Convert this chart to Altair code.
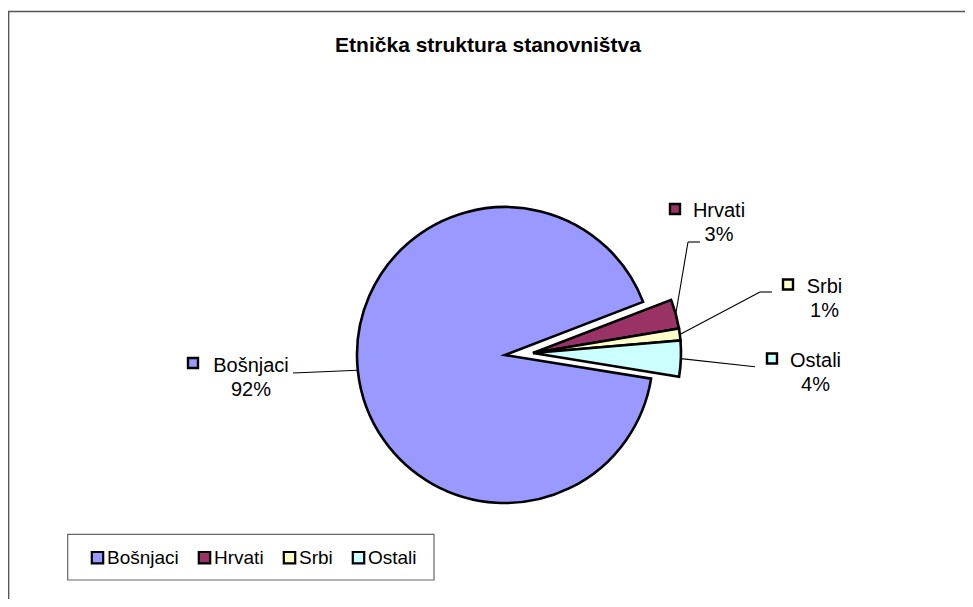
import math
import altair as alt
import pandas as pd

# ---------------- data ----------------
categories = ["Bošnjaci", "Hrvati", "Srbi", "Ostali"]
shares = [91.6, 3.2, 1.3, 3.9]
colors = ["#9999FF", "#993366", "#FFFFCC", "#CCFFFF"]
TITLE = "Etnička struktura stanovništva"

# ---------------- layout (page pixels) ----------------
OX, OY = 12, 12            # page position of the view origin (8px margin + 4px padding)
W, H = 953, 587
START_DEG = 99.2           # angle where the first slice starts (clockwise from 12 o'clock)
R = 148
CENTER_MAIN = (505, 355)
CENTER_EXPL = (533, 353)
label_layout = {
    "Bošnjaci": dict(name_cx=251, base=372, mk_x=193, mk_y=363, ex=293, ey=373, hx=293),
    "Hrvati": dict(name_cx=719, base=216.7, mk_x=675, mk_y=209, ex=688, ey=242, hx=700),
    "Srbi": dict(name_cx=824.5, base=292.7, mk_x=788, mk_y=284.5, ex=760, ey=292, hx=772),
    "Ostali": dict(name_cx=815.5, base=367, mk_x=772, mk_y=358.5, ex=755, ey=366.7, hx=755),
}

rows = []
for i, (c, v) in enumerate(zip(categories, shares)):
    L = label_layout[c]
    rows.append(dict(
        category=c, share=v, idx=i,
        name_cx=L["name_cx"] - OX, base=L["base"] - OY,
        mk_x=L["mk_x"] - OX, mk_y=L["mk_y"] - OY,
        ex=L["ex"] - OX, ey=L["ey"] - OY, hx=L["hx"] - OX,
    ))
df = pd.DataFrame(rows)

total = sum(shares)
a0 = math.radians(START_DEG)
c1x, c1y = CENTER_MAIN[0] - OX, CENTER_MAIN[1] - OY
c2x, c2y = CENTER_EXPL[0] - OX, CENTER_EXPL[1] - OY
FIRST = categories[0]

FONT = "Liberation Sans"

legend = alt.Legend(
    title=None, orient="none", legendX=88 - OX, legendY=548 - OY,
    direction="horizontal", symbolType="square", symbolSize=130,
    symbolStrokeColor="black", symbolStrokeWidth=2.2,
    labelFont=FONT, labelFontSize=19, labelColor="black", labelOffset=0,
    columnPadding=15, padding=0,
)
COLOR = alt.Color("category:N", scale=alt.Scale(domain=categories, range=colors),
                  legend=legend)

base = (
    alt.Chart(df)
    .transform_window(cum="sum(share)", sort=[alt.SortField("idx", order="ascending")])
    .transform_calculate(
        start="datum.cum - datum.share",
        stop="datum.cum",
        ang=f"{a0} + (datum.cum - datum.share / 2) / {total} * 2 * PI",
        cx=f"datum.category == '{FIRST}' ? {c1x} : {c2x}",
        cy=f"datum.category == '{FIRST}' ? {c1y} : {c2y}",
    )
    .transform_calculate(
        ix=f"datum.cx + {R} * sin(datum.ang)",
        iy=f"datum.cy - {R} * cos(datum.ang)",
        pct="format(datum.share / 100, '.0%')",
        pct_y="datum.base + 24",
    )
)

theta_scale = alt.Scale(domain=[0, total], range=[a0, a0 + 2 * math.pi])

arc_main = base.transform_filter(f"datum.category == '{FIRST}'").mark_arc(
    radius=R, stroke="black", strokeWidth=2.6
).encode(
    theta=alt.Theta("start:Q", scale=theta_scale),
    theta2="stop:Q",
    color=COLOR,
    x=alt.value(c1x), y=alt.value(c1y),
)
arc_expl = base.transform_filter(f"datum.category != '{FIRST}'").mark_arc(
    radius=R, stroke="black", strokeWidth=2.6
).encode(
    theta=alt.Theta("start:Q", scale=theta_scale),
    theta2="stop:Q",
    color=COLOR,
    x=alt.value(c2x), y=alt.value(c2y),
)

XN = lambda f: alt.X(f, scale=None, axis=None)
YN = lambda f: alt.Y(f, scale=None, axis=None)

lead1 = base.mark_rule(color="black", strokeWidth=1.1).encode(
    x=XN("ix:Q"), y=YN("iy:Q"), x2="ex:Q", y2="ey:Q"
)
lead2 = base.transform_filter("datum.hx != datum.ex").mark_rule(
    color="black", strokeWidth=1.1
).encode(x=XN("ex:Q"), y=YN("ey:Q"), x2="hx:Q", y2="ey:Q")

names = base.mark_text(font=FONT, fontSize=20, align="center",
                       baseline="alphabetic", color="black").encode(
    x=XN("name_cx:Q"), y=YN("base:Q"), text="category:N"
)
pcts = base.mark_text(font=FONT, fontSize=20, align="center",
                      baseline="alphabetic", color="black").encode(
    x=XN("name_cx:Q"), y=YN("pct_y:Q"), text="pct:N"
)
markers = base.mark_square(size=100, stroke="black", strokeWidth=2.4,
                           opacity=1, filled=True).encode(
    x=XN("mk_x:Q"), y=YN("mk_y:Q"), color=COLOR
)

one = pd.DataFrame({"t": [TITLE]})
title = alt.Chart(one).mark_text(font=FONT, fontSize=21, fontWeight="bold",
                                 align="center", baseline="alphabetic",
                                 color="black").encode(
    text="t:N", x=alt.value(488 - OX), y=alt.value(52 - OY)
)
legend_box = alt.Chart(one).mark_rect(fill="white", stroke="#666666",
                                      strokeWidth=1.2).encode(
    x=alt.value(67.7 - OX), x2=alt.value(434 - OX),
    y=alt.value(534.3 - OY), y2=alt.value(580 - OY)
)
border_left = alt.Chart(one).mark_rule(color="#555555", strokeWidth=1.5).encode(
    x=alt.value(8.6 - OX), y=alt.value(11 - OY), y2=alt.value(H + 10)
)
border_top = alt.Chart(one).mark_rule(color="#555555", strokeWidth=1.5).encode(
    x=alt.value(8 - OX), x2=alt.value(W + 10), y=alt.value(11.6 - OY)
)

chart = alt.layer(
    border_left, border_top, legend_box, title,
    arc_main, arc_expl, lead1, lead2, markers, names, pcts,
).properties(
    width=W, height=H,
    padding={"left": 4, "top": 4, "right": 0, "bottom": 0},
    autosize=alt.AutoSizeParams(type="none"),
    background="white",
).configure_view(stroke="transparent")

chart.save("out.html", embed_options={"renderer": "svg", "actions": False})
